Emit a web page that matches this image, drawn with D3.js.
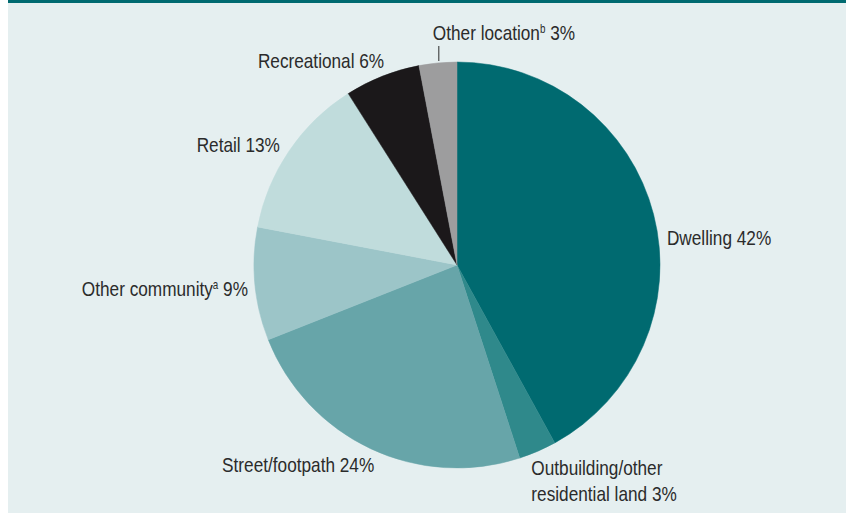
<!DOCTYPE html>
<html>
<head>
<meta charset="utf-8">
<script src="https://cdnjs.cloudflare.com/ajax/libs/d3/7.8.5/d3.min.js"></script>
<style>
    body { margin: 0; background: #ffffff; }
    .lbl { font-family: 'Liberation Sans', Arial, sans-serif; font-size: 21px; fill: #2b2b2b; }
</style>
</head>
<body>
<svg id="pie" width="846" height="513"></svg>
<script>
var categories = ["Dwelling", "Outbuilding/other residential land", "Street/footpath",
    "Other community", "Retail", "Recreational", "Other location"];
var shares = [42, 3, 24, 9, 13, 6, 3];
var notes = ["", "", "", "a", "", "", "b"];
var colours = ["#006a70", "#2f898b", "#67a5a9", "#9cc5c8", "#c0dcdc", "#1b181a", "#9d9d9e"];

(function pie() {
    var svg = d3.select("#pie"),
        cx = 457,
        cy = 265,
        radius = 203,
        squeeze = 0.82; // no narrow face installed, so squash the regular one

    svg.append("rect")
        .attr("x", 8)
        .attr("y", 0)
        .attr("width", 838)
        .attr("height", 513)
        .attr("fill", "#e5eff0");

    svg.append("rect")
        .attr("x", 8)
        .attr("y", 0)
        .attr("width", 838)
        .attr("height", 3)
        .attr("fill", "#006a70");

    var data = categories.map(function (c, i) {
        return { name: c, value: shares[i], note: notes[i], colour: colours[i] };
    });

    var pie = d3.pie()
        .sort(null)
        .value(function (d) { return d.value; });

    var arc = d3.arc().innerRadius(0).outerRadius(radius);
    var labelArc = d3.arc().innerRadius(225).outerRadius(225);

    var g = svg.append("g")
        .attr("transform", "translate(" + cx + "," + cy + ")");

    var arcs = pie(data);

    g.selectAll(".slice")
        .data(arcs)
        .enter().append("path")
        .attr("class", "slice")
        .attr("d", arc)
        .attr("fill", function (d) { return d.data.colour; })
        .attr("stroke", function (d) { return d.data.colour; })
        .attr("stroke-width", 0.5);

    // hand nudges from the label arc, like the printed layout
    var nudge = {
        "Dwelling": [-8, 36],
        "Outbuilding/other residential land": [-15, 3.5],
        "Street/footpath": [13, 3],
        "Other community": [15, 10],
        "Retail": [9, 13],
        "Recreational": [10, 12],
        "Other location": [-3, -1]
    };
    var lines = {
        "Outbuilding/other residential land": ["Outbuilding/other", "residential land"]
    };

    arcs.forEach(function (d) {
        var c = labelArc.centroid(d),
            n = nudge[d.data.name],
            mid = (d.startAngle + d.endAngle) / 2,
            anchor = (mid < Math.PI || mid > Math.PI * 1.9) ? "start" : "end";

        var t = g.append("text")
            .attr("class", "lbl")
            .attr("text-anchor", anchor)
            .attr("transform", "translate(" + (c[0] + n[0]) + "," + (c[1] + n[1]) + ") scale(" + squeeze + ",1)");

        var parts = lines[d.data.name];
        if (parts) {
            t.append("tspan").text(parts[0]);
            t.append("tspan")
                .attr("x", 0)
                .attr("dy", 26.5)
                .text(parts[1] + " " + d.data.value + "%");
        } else {
            t.append("tspan").text(d.data.name);
            if (d.data.note) {
                t.append("tspan")
                    .attr("dy", -7)
                    .style("font-size", "12px")
                    .text(d.data.note);
                t.append("tspan")
                    .attr("dy", 7)
                    .text(" " + d.data.value + "%");
            } else {
                t.append("tspan").text(" " + d.data.value + "%");
            }
        }
    });

    // leader for the small top slice
    var last = arcs[arcs.length - 1];
    var lx = labelArc.centroid(last)[0] + nudge["Other location"][0] + 6;
    g.append("line")
        .attr("x1", lx)
        .attr("x2", lx)
        .attr("y1", -radius - 16)
        .attr("y2", -radius - 1)
        .attr("stroke", "#2b2b2b")
        .attr("stroke-width", 1);
}());
</script>
</body>
</html>
